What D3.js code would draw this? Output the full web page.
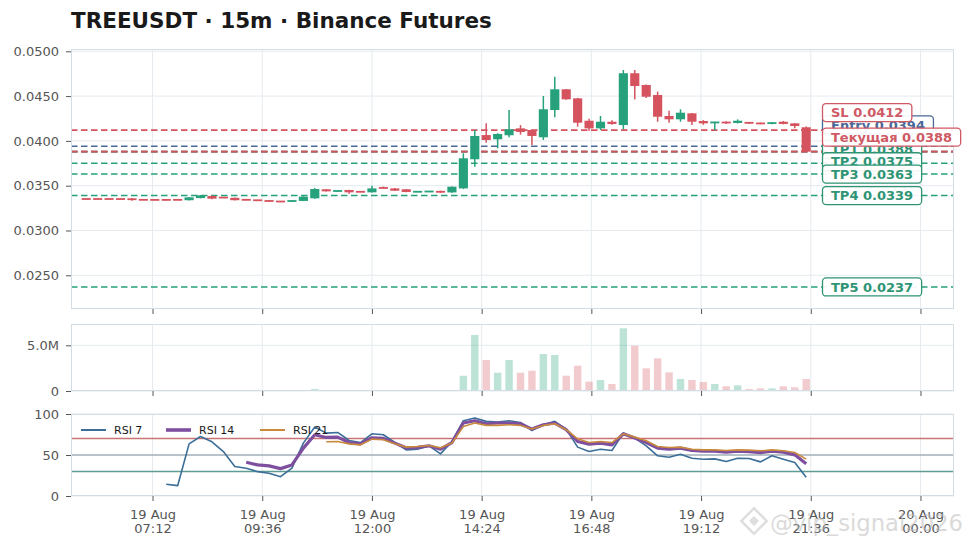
<!DOCTYPE html>
<html><head><meta charset="utf-8">
<script src="https://cdn.jsdelivr.net/npm/d3@7"></script>
<style>
body{margin:0;background:#fff;}
svg{display:block;font-family:"DejaVu Sans","Noto Sans",sans-serif;}
</style>
</head><body>
<svg id="chart" width="971" height="548"></svg>
<script>
// ---------------- DATA ----------------
const chartTitle = "TREEUSDT · 15m · Binance Futures";
const startTime = "2025-08-19T05:45:00Z";   // first candle open time
const intervalMinutes = 15;

const opens  = [0.03352,0.03352,0.03352,0.03352,0.03352,0.03344,0.03343,0.03343,0.03343,0.03338,
                0.03362,0.03385,0.03370,0.03365,0.03345,0.03340,0.03332,0.03326,0.03322,0.03330,
                0.03359,0.03460,0.03438,0.03452,0.03434,0.03426,0.03480,0.03470,0.03460,0.03430,
                0.03432,0.03442,0.03425,0.03470,0.03795,0.04065,0.04018,0.04063,0.04140,0.04122,
                0.04040,0.04345,0.04576,0.04475,0.04225,0.04140,0.04214,0.04177,0.04755,0.04624,
                0.04512,0.04278,0.04241,0.04308,0.04222,0.04200,0.04214,0.04200,0.04208,0.04200,
                0.04189,0.04214,0.04196,0.04152];
const highs  = [0.03354,0.03353,0.03353,0.03353,0.03362,0.03345,0.03344,0.03344,0.03345,0.03372,
                0.03396,0.03390,0.03372,0.03368,0.03347,0.03342,0.03334,0.03328,0.03340,0.03382,
                0.03475,0.03462,0.03446,0.03455,0.03436,0.03500,0.03490,0.03474,0.03462,0.03438,
                0.03440,0.03446,0.03492,0.03862,0.04122,0.04196,0.04085,0.04345,0.04177,0.04125,
                0.04501,0.04717,0.04580,0.04480,0.04248,0.04278,0.04230,0.04791,0.04791,0.04630,
                0.04550,0.04337,0.04353,0.04312,0.04232,0.04215,0.04220,0.04240,0.04212,0.04204,
                0.04212,0.04222,0.04200,0.04160];
const lows   = [0.03350,0.03350,0.03350,0.03348,0.03332,0.03340,0.03339,0.03339,0.03339,0.03335,
                0.03358,0.03350,0.03362,0.03335,0.03338,0.03333,0.03325,0.03318,0.03320,0.03328,
                0.03355,0.03435,0.03436,0.03410,0.03428,0.03424,0.03468,0.03440,0.03428,0.03428,
                0.03430,0.03420,0.03422,0.03465,0.03712,0.03980,0.03917,0.04040,0.04070,0.03954,
                0.04010,0.04264,0.04460,0.04159,0.04114,0.04122,0.04180,0.04130,0.04464,0.04478,
                0.04214,0.04203,0.04214,0.04177,0.04180,0.04120,0.04190,0.04195,0.04190,0.04186,
                0.04185,0.04185,0.04140,0.03875];
const closes = [0.03351,0.03351,0.03351,0.03350,0.03346,0.03341,0.03340,0.03340,0.03341,0.03370,
                0.03392,0.03355,0.03365,0.03338,0.03340,0.03335,0.03327,0.03321,0.03336,0.03378,
                0.03463,0.03437,0.03444,0.03426,0.03430,0.03470,0.03470,0.03444,0.03430,0.03435,
                0.03438,0.03422,0.03489,0.03806,0.04055,0.04010,0.04077,0.04130,0.04100,0.04055,
                0.04353,0.04576,0.04464,0.04203,0.04140,0.04214,0.04189,0.04755,0.04613,0.04493,
                0.04270,0.04241,0.04315,0.04214,0.04196,0.04212,0.04196,0.04225,0.04196,0.04190,
                0.04208,0.04189,0.04166,0.03880];
const volumes = [0.01e6,0.01e6,0.01e6,0.01e6,0.01e6,0.01e6,0.01e6,0.01e6,0.01e6,0.02e6,
                 0.02e6,0.01e6,0.01e6,0.01e6,0.01e6,0.01e6,0.01e6,0.01e6,0.01e6,0.03e6,
                 0.22e6,0.02e6,0.02e6,0.03e6,0.02e6,0.10e6,0.02e6,0.02e6,0.02e6,0.02e6,
                 0.02e6,0.02e6,0.10e6,1.67e6,6.13e6,3.39e6,2.00e6,3.39e6,2.00e6,2.22e6,
                 4.05e6,3.94e6,1.67e6,2.77e6,1.02e6,1.20e6,0.77e6,6.86e6,4.96e6,2.48e6,
                 3.57e6,2.04e6,1.31e6,1.20e6,0.98e6,0.77e6,0.51e6,0.62e6,0.22e6,0.29e6,
                 0.29e6,0.51e6,0.40e6,1.31e6];
const N = null;
const rsi7  = [N,N,N,N,N,N,N,14.3,12.6,63.6,72.6,66.1,54.2,35.9,33.9,29.7,27.8,23.6,33.9,64.5,
               84.1,76.7,77.5,67.7,65.2,75.9,74.7,65.2,56.3,57.1,61.2,51.4,66.5,91.8,95.1,91.0,
               90.2,91.8,89.7,79.9,86.9,91.0,81.6,59.6,54.2,57.1,55.5,76.7,70.6,61.2,49.0,47.3,
               51.0,46.1,44.9,45.3,42.0,46.1,45.7,41.6,49.0,44.9,40.8,22.9];
const rsi14 = [N,N,N,N,N,N,N,N,N,N,N,N,N,N,41.2,37.9,36.7,33.4,37.9,58.4,
               74.7,71.4,71.8,65.2,63.6,71.0,70.2,64.5,58.8,59.2,61.2,57.1,65.2,89.0,91.8,88.1,
               89.0,89.0,88.1,81.6,86.9,89.0,80.8,66.5,63.3,64.5,62.4,75.9,70.6,65.2,58.4,57.1,
               58.4,55.5,54.6,54.6,53.5,54.6,54.2,53.0,54.6,53.5,50.2,39.2];
const rsi21 = [N,N,N,N,N,N,N,N,N,N,N,N,N,N,N,N,N,N,N,N,
               N,66.1,66.5,63.6,62.4,69.4,68.6,63.6,59.6,60.4,61.6,58.8,64.5,84.8,89.0,86.1,
               86.1,86.9,86.1,81.6,86.1,88.1,80.8,69.8,65.2,66.5,65.2,75.9,71.8,67.3,60.4,59.2,
               59.6,57.1,56.3,56.3,55.5,56.3,55.9,55.1,56.3,55.1,53.0,44.9];

const levelNames  = ["SL","Entry","Текущая","TP1","TP2","TP3","TP4","TP5"];
const levelValues = [0.0412,0.0394,0.0388,0.0388,0.0375,0.0363,0.0339,0.0237];

const priceTicks = [0.025,0.030,0.035,0.040,0.045,0.050];
const volumeTicks = [0, 5e6];
const rsiTicks = [0, 50, 100];
const rsiLevels = [70, 50, 30];
const xTickTimes = ["2025-08-19T07:12:00Z","2025-08-19T09:36:00Z","2025-08-19T12:00:00Z",
                    "2025-08-19T14:24:00Z","2025-08-19T16:48:00Z","2025-08-19T19:12:00Z",
                    "2025-08-19T21:36:00Z","2025-08-20T00:00:00Z"];
const xDomain = ["2025-08-19T05:25:00Z","2025-08-20T00:44:00Z"];
const rsiSeriesNames = ["RSI 7","RSI 14","RSI 21"];
const watermark = "@vip_signal2026";

// ---------------- STYLE ----------------
const GREEN = "#26a17b", RED = "#d5535e", BLUE = "#4a6896";
const LBL_RED = "#cf5964", LBL_GREEN = "#2e9474";
const levelColors = [RED, BLUE, RED, GREEN, GREEN, GREEN, GREEN, GREEN];
const labelColors = [LBL_RED, BLUE, LBL_RED, LBL_GREEN, LBL_GREEN, LBL_GREEN, LBL_GREEN, LBL_GREEN];
const rsiColors = ["#3b6e98", "#7e4f9f", "#c98a3c"];
const rsiWidths = [1.6, 3.2, 1.6];
const rsiLevelColors = ["#c97373", "#a6b0b8", "#5f9c95"];
const GRID = "#e5ebef", FRAME = "#d3dde4", TICKC = "#555", LABELC = "#555";

// ---------------- BUILD ----------------
const svg = d3.select("#chart");
const L = 71, R = 954;
const P = {top:49, bottom:309}, V = {top:324, bottom:391}, S = {top:414, bottom:496};

const t0 = new Date(startTime).getTime();
const times = opens.map((_, i) => new Date(t0 + i * intervalMinutes * 60000));
const x = d3.scaleUtc().domain(xDomain.map(d => new Date(d))).range([L, R]);
const step = x(new Date(t0 + intervalMinutes*60000)) - x(new Date(t0));
const xTicks = xTickTimes.map(d => new Date(d));

const yP = d3.scaleLinear().domain([0.021239, 0.050257]).range([P.bottom, P.top]);
const yV = d3.scaleLinear().domain([0, 7.33e6]).range([V.bottom, V.top]);
const yR = d3.scaleLinear().domain([0, 100]).range([S.bottom, S.top]);

// title
svg.append("text").attr("x", 71).attr("y", 28).attr("font-size", 21.5)
  .attr("font-weight", "bold").attr("fill", "#1a1a1a").text(chartTitle);

function panel(box, yScale, yTicks, fmt, showXLabels) {
  const g = svg.append("g");
  g.append("rect").attr("x", L).attr("y", box.top).attr("width", R - L)
    .attr("height", box.bottom - box.top).attr("fill", "#fff");
  g.selectAll(".vg").data(xTicks).join("line")
    .attr("x1", d => x(d)).attr("x2", d => x(d)).attr("y1", box.top).attr("y2", box.bottom)
    .attr("stroke", GRID).attr("stroke-width", 1);
  g.selectAll(".hg").data(yTicks).join("line")
    .attr("x1", L).attr("x2", R).attr("y1", d => yScale(d)).attr("y2", d => yScale(d))
    .attr("stroke", GRID).attr("stroke-width", 1);
  const ya = d3.axisLeft(yScale).tickValues(yTicks).tickFormat(fmt).tickSize(5).tickPadding(7);
  const yg = svg.append("g").attr("transform", `translate(${L},0)`).call(ya);
  yg.select(".domain").remove();
  yg.selectAll("line").attr("stroke", TICKC);
  yg.selectAll("text").attr("font-size", 13).attr("fill", LABELC)
    .attr("font-family", '"DejaVu Sans",sans-serif');
  const xa = d3.axisBottom(x).tickValues(xTicks).tickSize(5).tickFormat(() => "");
  const xg = svg.append("g").attr("transform", `translate(0,${box.bottom})`).call(xa);
  xg.select(".domain").remove();
  xg.selectAll("line").attr("stroke", TICKC);
  if (showXLabels) {
    const f1 = d3.utcFormat("%d %b"), f2 = d3.utcFormat("%H:%M");
    xg.selectAll(".tick text").remove();
    xg.selectAll(".tick").each(function(d) {
      const tg = d3.select(this);
      tg.append("text").attr("y", 23).attr("text-anchor", "middle").attr("font-size", 13)
        .attr("font-family", '"DejaVu Sans",sans-serif').attr("fill", LABELC).text(f1(d));
      tg.append("text").attr("y", 37).attr("text-anchor", "middle").attr("font-size", 13)
        .attr("font-family", '"DejaVu Sans",sans-serif').attr("fill", LABELC).text(f2(d));
    });
  }
  return g;
}

const gP = panel(P, yP, priceTicks, d3.format(".4f"), false);
const gV = panel(V, yV, volumeTicks, d => d === 0 ? "0" : (d/1e6).toFixed(1) + "M", false);
const gS = panel(S, yR, rsiTicks, d3.format("d"), true);

// level lines
levelValues.forEach((v, i) => {
  gP.append("line").attr("x1", L).attr("x2", R).attr("y1", yP(v)).attr("y2", yP(v))
    .attr("stroke", levelColors[i]).attr("stroke-width", 1.6)
    .attr("stroke-dasharray", "6.5,3.5");
});
gP.append("line").attr("x1", L).attr("x2", R).attr("y1", yP(levelValues[2])).attr("y2", yP(levelValues[2]))
  .attr("stroke", levelColors[2]).attr("stroke-width", 1.6).attr("stroke-dasharray", "6.5,3.5");

// candles
const bodyW = step * 0.8;
const cg = gP.append("g");
opens.forEach((o, i) => {
  const c = closes[i], up = c >= o, col = up ? GREEN : RED, cx = x(times[i]);
  cg.append("line").attr("x1", cx).attr("x2", cx).attr("y1", yP(highs[i])).attr("y2", yP(lows[i]))
    .attr("stroke", col).attr("stroke-width", 1.5);
  const yt = yP(Math.max(o, c)), yb = yP(Math.min(o, c));
  const h = Math.max(yb - yt, 1.8);
  cg.append("rect").attr("x", cx - bodyW/2).attr("y", (yt + yb)/2 - h/2)
    .attr("width", bodyW).attr("height", h).attr("fill", col);
});

// volume bars
const volW = step * 0.65;
gV.selectAll(".vb").data(volumes).join("rect")
  .attr("x", (d, i) => x(times[i]) - volW/2).attr("y", d => yV(d))
  .attr("width", volW).attr("height", d => yV(0) - yV(d))
  .attr("fill", (d, i) => closes[i] >= opens[i] ? GREEN : RED).attr("opacity", 0.3);

// RSI levels
rsiLevels.forEach((lv, i) => {
  gS.append("line").attr("x1", L).attr("x2", R).attr("y1", yR(lv)).attr("y2", yR(lv))
    .attr("stroke", rsiLevelColors[i]).attr("stroke-width", 1.5);
});
[rsi7, rsi14, rsi21].forEach((arr, k) => {
  const line = d3.line().defined(d => d != null).x((d, i) => x(times[i])).y(d => yR(d));
  gS.append("path").datum(arr).attr("d", line).attr("fill", "none")
    .attr("stroke", rsiColors[k]).attr("stroke-width", rsiWidths[k]).attr("stroke-linejoin", "round");
});
const legX = [81, 166, 260];
rsiSeriesNames.forEach((n, k) => {
  gS.append("line").attr("x1", legX[k]).attr("x2", legX[k] + 25).attr("y1", 430).attr("y2", 430)
    .attr("stroke", rsiColors[k]).attr("stroke-width", rsiWidths[k] + 0.4);
  gS.append("text").attr("x", legX[k] + 33).attr("y", 430).attr("dy", "0.35em")
    .attr("font-size", 11).attr("fill", "#1a1a1a").text(n);
});

// frames
[P, V, S].forEach(b => {
  svg.append("rect").attr("x", L + 0.5).attr("y", b.top + 0.5).attr("width", R - L - 1)
    .attr("height", b.bottom - b.top - 1).attr("fill", "none").attr("stroke", FRAME);
});

// level labels (stacked upward to avoid overlap)
const GAP = 12.3;
const labelY = new Array(levelValues.length);
for (let i = levelValues.length - 1; i >= 0; i--) {
  const ly = yP(levelValues[i]);
  labelY[i] = (i === levelValues.length - 1) ? ly : Math.min(ly, labelY[i + 1] - GAP);
}
const drawOrder = [1, 3, 0, 4, 5, 6, 7, 2];
const lg = svg.append("g");
const labelNodes = [];
drawOrder.forEach(i => {
  const g = lg.append("g");
  const rect = g.append("rect").attr("x", 822.5).attr("y", labelY[i] - 9)
    .attr("height", 18).attr("rx", 3.5).attr("fill", "#fff").attr("fill-opacity", 0.93)
    .attr("stroke", labelColors[i]).attr("stroke-width", 1.3);
  const txt = g.append("text").attr("x", 831).attr("y", labelY[i]).attr("dy", "0.36em")
    .attr("font-size", 13).attr("font-weight", "bold")
    .attr("font-family", '"DejaVu Sans",sans-serif').attr("fill", labelColors[i])
    .text(levelNames[i] + " " + levelValues[i].toFixed(4));
  labelNodes.push({rect, txt});
});
function sizeBoxes() {
  labelNodes.forEach(({rect, txt}) => {
    const w = txt.node().getBBox().width;
    rect.attr("width", w + 17);
  });
}
sizeBoxes();
if (document.fonts && document.fonts.ready) document.fonts.ready.then(sizeBoxes);
requestAnimationFrame(sizeBoxes);

// watermark
const wm = svg.append("g").attr("opacity", 0.55);
wm.append("g").attr("transform", "translate(754,521) rotate(45)")
  .call(g => {
    g.append("rect").attr("x", -9).attr("y", -9).attr("width", 18).attr("height", 18)
      .attr("fill", "none").attr("stroke", "#c4c4c4").attr("stroke-width", 2.5);
    g.append("rect").attr("x", -3.5).attr("y", -3.5).attr("width", 7).attr("height", 7)
      .attr("fill", "#c4c4c4");
  });
wm.append("text").attr("x", 770).attr("y", 531).attr("font-size", 22.7)
  .attr("fill", "#bdbdbd").text(watermark);
</script>
</body></html>
